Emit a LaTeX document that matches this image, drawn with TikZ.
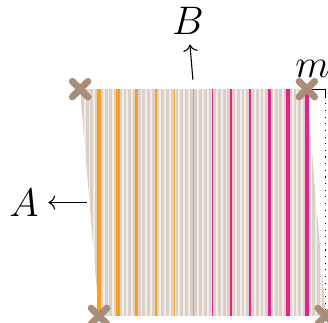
\documentclass[tikz,border=0pt]{standalone}
\usetikzlibrary{shapes.misc, arrows.meta, positioning}
\definecolor{warm}{HTML}{F6A01E}
\definecolor{hot}{HTML}{E6208C}
\definecolor{stripedark}{HTML}{DAD0C7}
\definecolor{stripelight}{HTML}{F0ECE8}
\definecolor{cornerbrown}{HTML}{A88E78}
\tikzset{vertex/.style={cross out, draw=cornerbrown, line width=2.5pt, line cap=round, minimum size=1.1mm, inner sep=0pt}}

\begin{document}
\begin{tikzpicture}[x=0.24cm, y=0.24cm, font=\fontsize{13.5}{16}\selectfont]
\useasboundingbox (-5.24, -0.37) rectangle (12.12, 16.72);

\fill [stripelight] (-1, 12) -- (11, 12) -- (12, 0) -- (0, 0) -- cycle;
\begin{scope}
\clip (-1, 12) -- (11, 12) -- (12, 0) -- (0, 0) -- cycle;
\foreach \x in {-1, -0.75, ..., 12}
  \fill [stripedark] ({\x + 0.05}, 0) rectangle ({\x + 0.2}, 12);
\end{scope}

\foreach \i/\w in {0/1.5, 1/1.28, 2/1.06, 3/0.84, 4/0.62, 5/0.4}
  \draw [warm, line width=\w pt] (\i, 0) -- (\i, 12);
\foreach \i/\w in {6/0.4, 7/0.62, 8/0.84, 9/1.06, 10/1.28, 11/1.5}
  \draw [hot, line width=\w pt] (\i, 0) -- (\i, 12);

\coordinate (brk) at (12, 12);
\coordinate (brkend) at (12, 11.6);
\draw (11, 12) -- (brk) -- (brkend);
\draw [dotted] (brkend) -- (12, 0);
\node (m) at (11.3, 13.05) {$m$};

\node (A) at (-3.97, 6) {$A$};
\coordinate (a0) at (-0.65, 6);
\draw [->] (a0) -- (A);

\node (B) at (4.71, 15.6) {$B$};
\coordinate (b0) at (4.97, 12.5);
\draw [->] (b0) -- (B);

\node [vertex] (tl) at (-1, 12) {};
\node [vertex] (tr) at (11, 12) {};
\node [vertex] (bl) at (0, 0) {};
\node [vertex] (br) at (12, 0) {};

\end{tikzpicture}
\end{document}
